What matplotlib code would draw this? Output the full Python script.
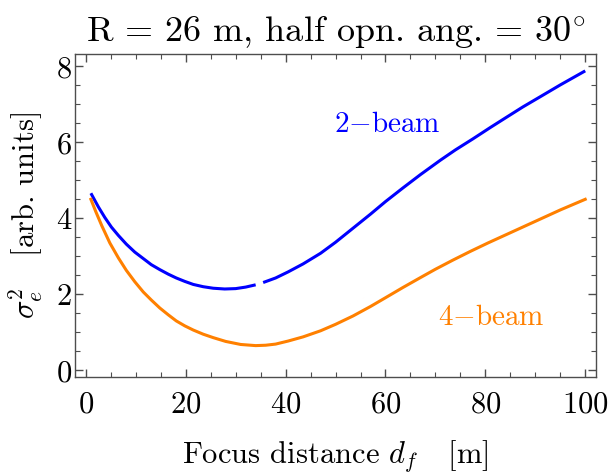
import numpy as np
import matplotlib.pyplot as plt
from matplotlib.ticker import MultipleLocator

plt.rcParams['font.family'] = 'serif'
plt.rcParams['font.serif'] = ['cmr10']
plt.rcParams['mathtext.fontset'] = 'cm'
plt.rcParams['axes.formatter.use_mathtext'] = True

# 2-beam curve, drawn in two pieces (gap near d_f = 35 m)
beam2_x1 = [1, 2.5, 3.8, 5.1, 6.5, 8.1, 9.8, 11.5, 13.1, 14.8, 16.5, 18.1, 19.8,
            21.5, 23.5, 25.5, 27.8, 30, 32, 34]
beam2_y1 = [4.66, 4.30, 4.02, 3.77, 3.55, 3.32, 3.11, 2.94, 2.78, 2.65, 2.53, 2.43,
            2.34, 2.26, 2.20, 2.16, 2.14, 2.15, 2.19, 2.25]
beam2_x2 = [35.5, 38, 40.5, 43.5, 47, 50, 53.5, 57, 60, 63.5, 67, 71, 74, 77.5,
            81, 84, 87.5, 91, 95, 100]
beam2_y2 = [2.31, 2.43, 2.59, 2.80, 3.08, 3.37, 3.74, 4.11, 4.44, 4.80, 5.15,
            5.53, 5.80, 6.09, 6.39, 6.64, 6.93, 7.20, 7.51, 7.88]

# 4-beam curve
beam4_x = [1, 2, 3.2, 4.8, 6.5, 8.1, 9.8, 11.5, 13.1, 14.8, 16.5, 18.1, 19.8,
           21.5, 23.5, 25.5, 28, 31, 34, 36, 38, 40.5, 43.5, 47, 50, 53.5, 57,
           60, 63.5, 67, 70, 73.5, 77, 80.5, 84, 87.5, 91, 95, 100]
beam4_y = [4.50, 4.17, 3.80, 3.35, 2.96, 2.63, 2.33, 2.06, 1.85, 1.64, 1.46, 1.30,
           1.17, 1.06, 0.95, 0.86, 0.76, 0.68, 0.65, 0.66, 0.69, 0.77, 0.88, 1.04,
           1.21, 1.43, 1.68, 1.91, 2.18, 2.44, 2.66, 2.90, 3.13, 3.35, 3.56, 3.77,
           3.98, 4.22, 4.50]

blue = '#0000ff'
orange = '#ff8000'

fig = plt.figure(figsize=(6.09, 4.75), dpi=100)
ax = fig.add_axes([0.123, 0.206, 0.856, 0.680])

ax.plot(beam2_x1, beam2_y1, color=blue, lw=2.2, solid_capstyle='butt')
ax.plot(beam2_x2, beam2_y2, color=blue, lw=2.2, solid_capstyle='butt')
ax.plot(beam4_x, beam4_y, color=orange, lw=2.2)

ax.text(60.4, 6.47, '2$-$beam', color=blue, fontsize=21, ha='center', va='center')
ax.text(81.2, 1.37, '4$-$beam', color=orange, fontsize=21, ha='center', va='center')

ax.set_xlim(-2.2, 102.2)
ax.set_ylim(-0.18, 8.32)
ax.xaxis.set_major_locator(MultipleLocator(20))
ax.xaxis.set_minor_locator(MultipleLocator(5))
ax.yaxis.set_major_locator(MultipleLocator(2))
ax.yaxis.set_minor_locator(MultipleLocator(0.5))
ax.tick_params(which='both', direction='in', top=True, right=True,
               labelsize=22, color='0.3')
ax.tick_params(axis='x', which='major', pad=10)
ax.tick_params(axis='y', which='major', pad=2)
ax.tick_params(which='major', length=6, width=1)
ax.tick_params(which='minor', length=3.5, width=0.8)
for s in ax.spines.values():
    s.set_color('0.3')
    s.set_linewidth(1)

ax.set_title(r'R = 26 m, half opn. ang. = 30$^{\circ}$', fontsize=26, pad=9)
ax.set_xlabel(r'Focus distance $d_f$   [m]', fontsize=22, labelpad=14)
ax.set_ylabel(r'$\sigma_e^2$   [arb. units]', fontsize=22, labelpad=8)

fig.savefig('out.png', dpi=100)
